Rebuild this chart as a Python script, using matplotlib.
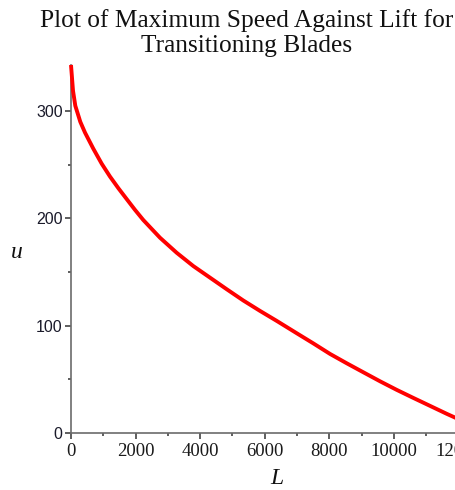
import matplotlib.pyplot as plt
from matplotlib.ticker import MultipleLocator

# lift L against maximum speed u
lift = [0, 62, 133, 288, 433, 690, 950, 1207, 1470, 1724, 1980, 2238,
        2755, 3271, 3786, 4303, 4820, 5334, 5851, 6368, 6987, 7503,
        8019, 8535, 9050, 9567, 10084, 10598, 11115, 11631, 12100]
speed = [343, 319, 305, 290, 280, 265, 251, 239, 228, 218, 208, 198.5,
         182, 168, 155.6, 144.8, 134, 123.5, 113.8, 104.5, 93, 83.5,
         73.7, 65, 56.6, 48.2, 40.2, 32.7, 25.3, 17.9, 11.5]

title = "Plot of Maximum Speed Against Lift for\nTransitioning Blades"

W, H = 455, 490
fig = plt.figure(figsize=(W / 100, H / 100), dpi=100)

# axes placed in pixels: origin at (71, 433), x runs past the right edge
x0, y0 = 71, 433
xmax, ymax = 12400, 343
px_per_x = 32.3 / 1000
px_per_y = 1.073
ax = fig.add_axes([x0 / W, (H - y0) / H, xmax * px_per_x / W, ymax * px_per_y / H])

ax.plot(lift, speed, color='#ff0000', linewidth=2.8, solid_capstyle='butt',
        solid_joinstyle='round', clip_on=False, zorder=3)

ax.set_xlim(0, xmax)
ax.set_ylim(0, ymax)

for side in ['top', 'right']:
    ax.spines[side].set_visible(False)
for side in ['left', 'bottom']:
    ax.spines[side].set_color('#6b6b6b')
    ax.spines[side].set_linewidth(1.2)

ax.xaxis.set_major_locator(MultipleLocator(2000))
ax.xaxis.set_minor_locator(MultipleLocator(1000))
ax.yaxis.set_major_locator(MultipleLocator(100))
ax.yaxis.set_minor_locator(MultipleLocator(50))

ax.tick_params(which='both', direction='out', color='#333333', width=1.1)
ax.tick_params(which='major', length=4)
ax.tick_params(which='minor', length=2.5)
ax.tick_params(axis='x', pad=3)
ax.tick_params(axis='y', pad=2)

for lab in ax.get_xticklabels():
    lab.set_family('Liberation Serif')
    lab.set_fontsize(13.5)
    lab.set_color('#1a1a1a')
for lab in ax.get_yticklabels():
    lab.set_family('Liberation Sans')
    lab.set_fontsize(11.5)
    lab.set_color('#1a1a2a')

fig.text(247 / W, 1 - 33 / H, title, ha='center', va='center', family='Liberation Serif',
         fontsize=18.3, linespacing=1.15, color='#111111')

fig.text(277 / W, 1 - 478 / H, 'L', ha='center', va='center', family='Liberation Serif',
         style='italic', fontsize=17, color='#111111')
fig.text(17 / W, 1 - 253 / H, 'u', ha='center', va='center', family='Liberation Serif',
         style='italic', fontsize=17, color='#111111')

fig.savefig('out.png', dpi=100)
